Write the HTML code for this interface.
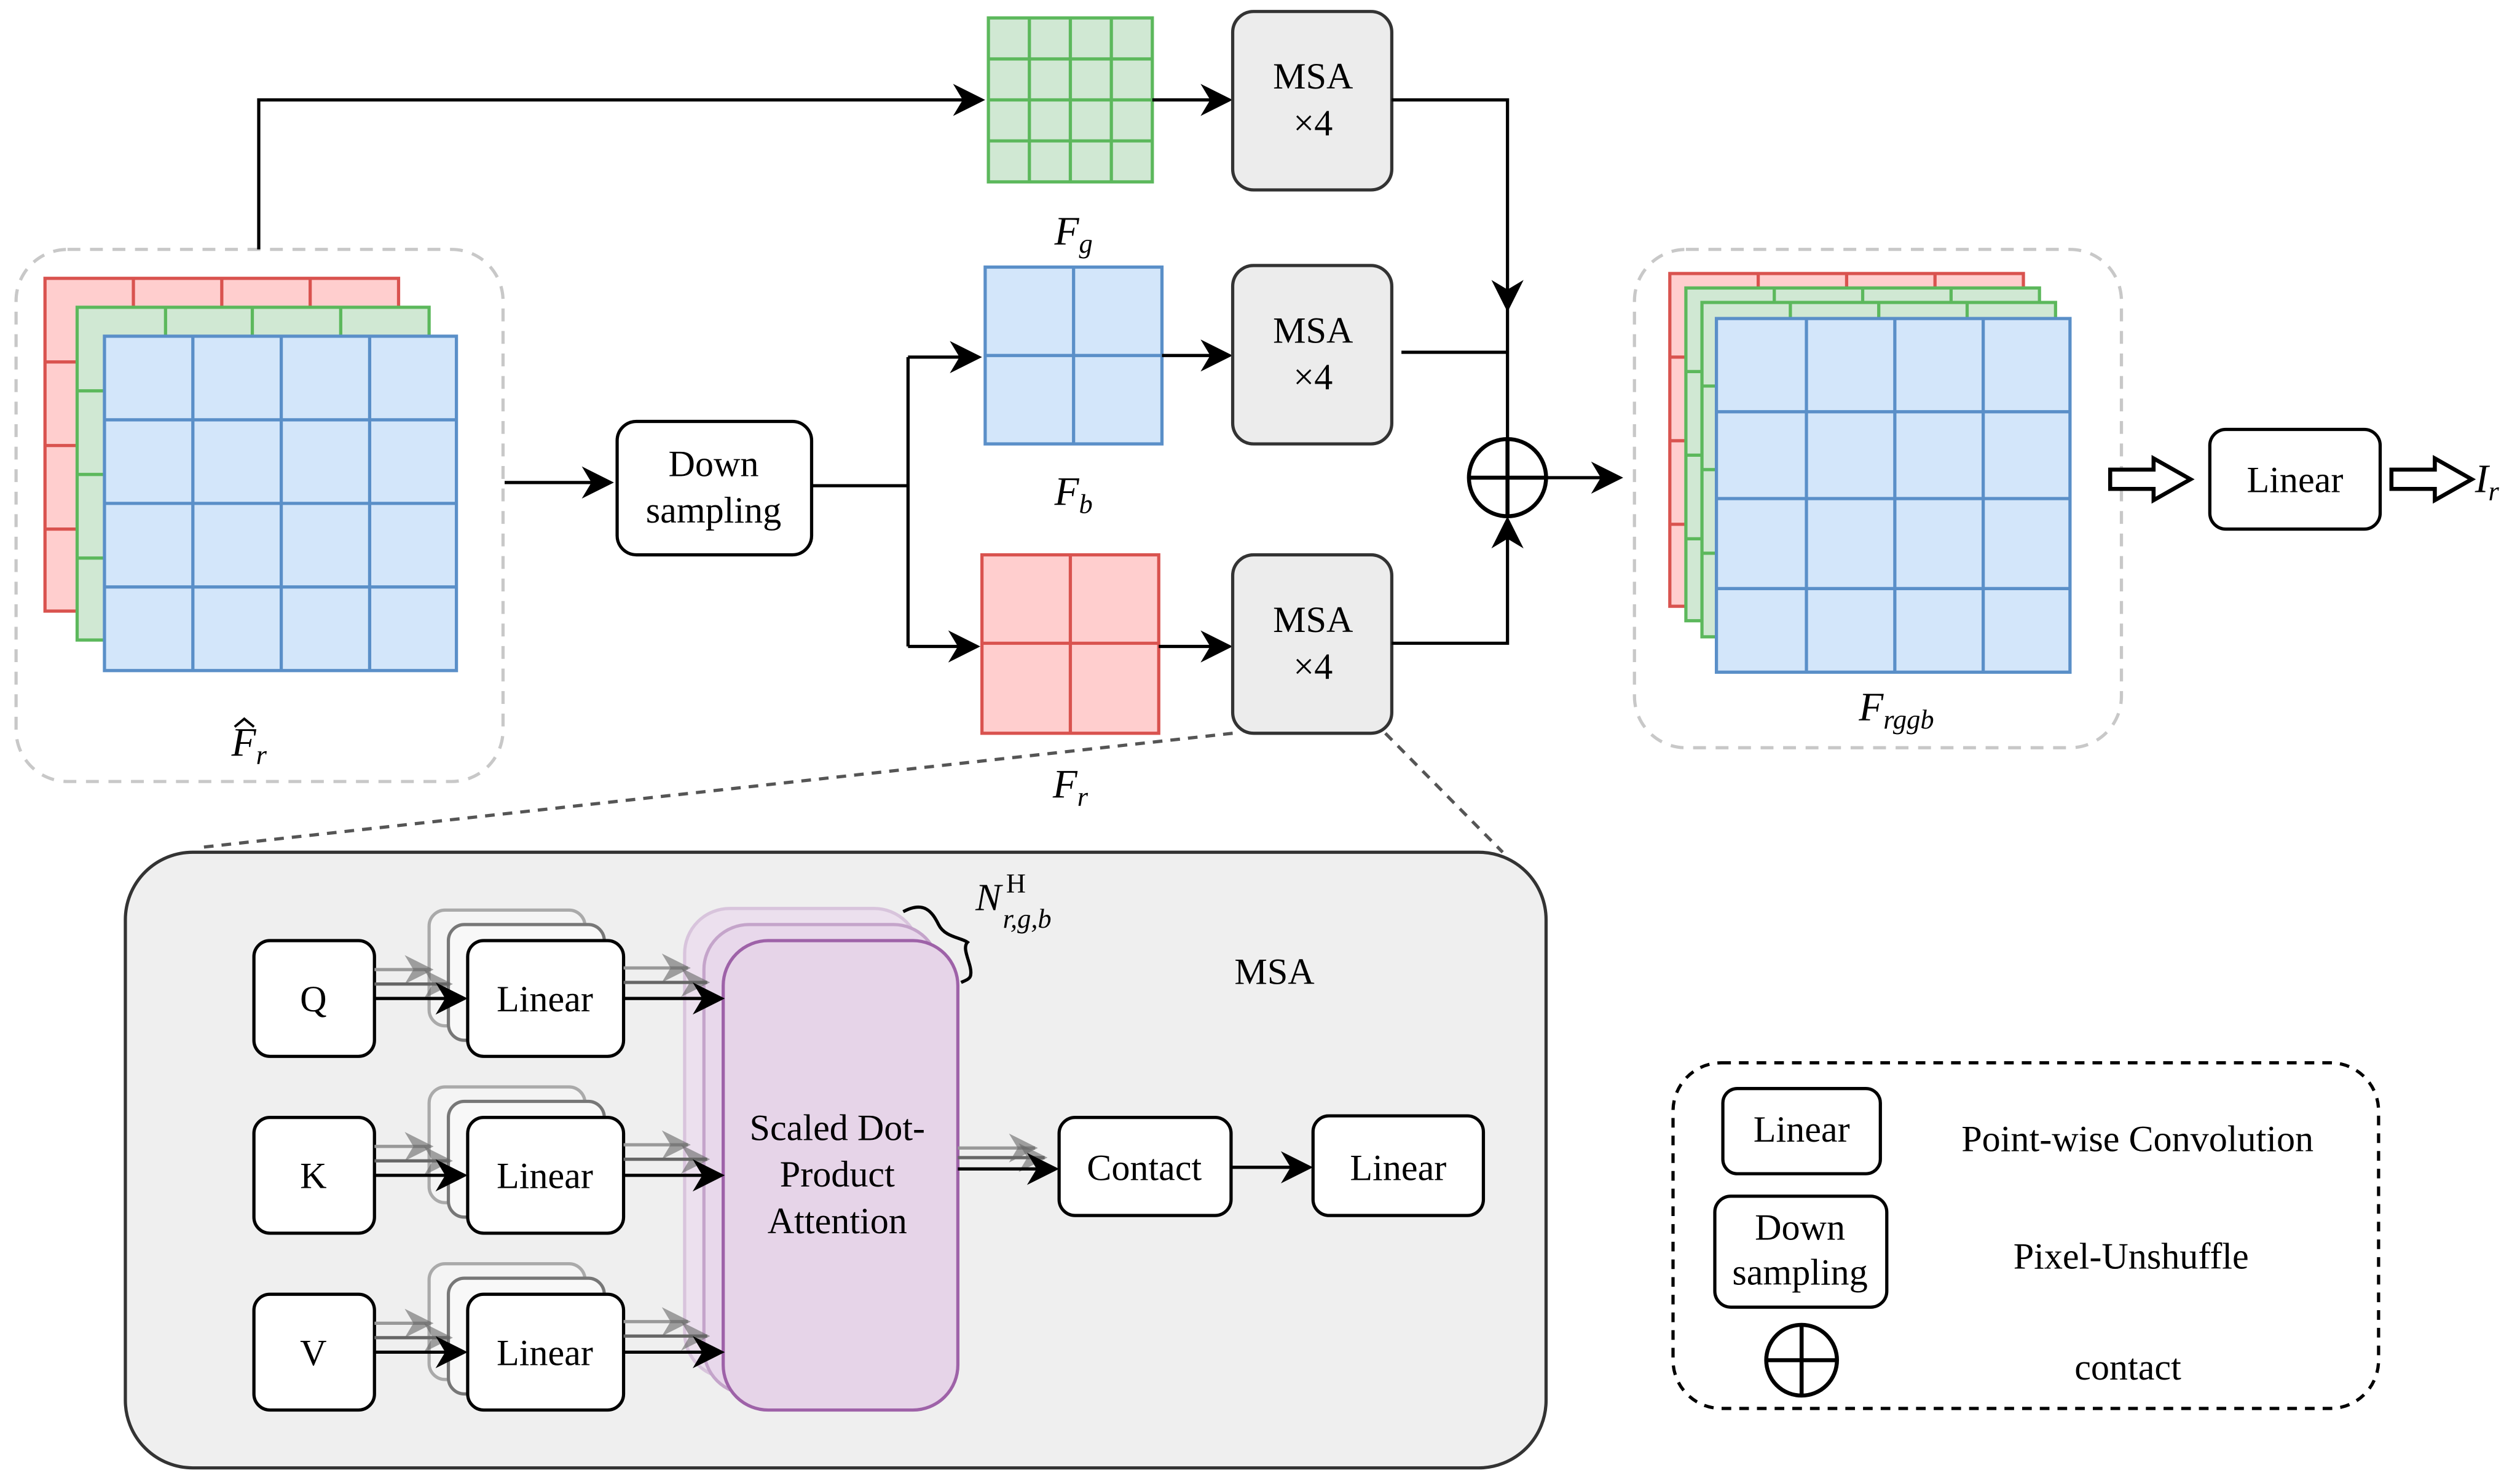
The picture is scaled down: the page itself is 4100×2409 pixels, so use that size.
<!DOCTYPE html>
<html><head><meta charset="utf-8"><style>html,body{margin:0;padding:0;background:#fff}svg{display:block}</style></head>
<body>
<svg width="4100" height="2409" viewBox="0 0 1568 921" xmlns="http://www.w3.org/2000/svg" font-family="Liberation Serif, serif">
<defs>
<marker id="ab" viewBox="0 0 10 10" refX="9" refY="5" markerWidth="20" markerHeight="20" markerUnits="userSpaceOnUse" orient="auto"><path d="M0,0 L10,5 L0,10 L3,5 Z" fill="#000"/></marker>
<marker id="ag" viewBox="0 0 10 10" refX="9" refY="5" markerWidth="18" markerHeight="18" markerUnits="userSpaceOnUse" orient="auto"><path d="M0,0 L10,5 L0,10 L3,5 Z" fill="#666" fill-opacity="0.6"/></marker>
</defs>
<g stroke-width="2">
<rect x="10" y="155" width="303" height="331" rx="32" fill="none" stroke="#c8c8c8" stroke-dasharray="8,6"/>
<g>
<rect x="28" y="173" width="220" height="207" fill="#ffcece" stroke="#d9534f"/>
<path d="M83,173V380M138,173V380M193,173V380M28,225H248M28,277H248M28,329H248" stroke="#d9534f"/>
<rect x="48" y="191" width="219" height="207" fill="#d0e8d3" stroke="#5cb85c"/>
<path d="M103,191V398M157,191V398M212,191V398M48,243H267M48,295H267M48,347H267" stroke="#5cb85c"/>
<rect x="65" y="209" width="219" height="208" fill="#d3e6fa" stroke="#5a8fc8"/>
<path d="M120,209V417M175,209V417M230,209V417M65,261H284M65,313H284M65,365H284" stroke="#5a8fc8"/>
</g>
<text x="155" y="470" font-size="25" font-style="italic" text-anchor="middle" stroke="none">F<tspan font-size="17" dy="5">r</tspan></text>
<path d="M146,452L152,447L158,452" fill="none" stroke="#000" stroke-width="1.5"/>

<path d="M161,155V62H611" fill="none" stroke="#000" marker-end="url(#ab)"/>
<path d="M314,300H380" stroke="#000" marker-end="url(#ab)"/>
<rect x="384" y="262" width="121" height="83" rx="12" fill="#fff" stroke="#000"/>
<text x="444" y="296" font-size="23" text-anchor="middle" stroke="none">Down</text>
<text x="444" y="325" font-size="23" text-anchor="middle" stroke="none">sampling</text>
<path d="M505,302H565V222M565,302V402" fill="none" stroke="#000"/>
<path d="M565,222H609" stroke="#000" marker-end="url(#ab)"/>
<path d="M565,402H608" stroke="#000" marker-end="url(#ab)"/>

<rect x="615" y="11" width="102" height="102" fill="#d0e8d3" stroke="#5cb85c"/>
<path d="M640.5,11V113M666,11V113M691.5,11V113M615,36.5H717M615,62H717M615,87.5H717" stroke="#5cb85c"/>
<text x="668" y="152" font-size="25" font-style="italic" text-anchor="middle" stroke="none">F<tspan font-size="17" dy="5">g</tspan></text>
<rect x="613" y="166" width="110" height="110" fill="#d3e6fa" stroke="#5a8fc8"/>
<path d="M668,166V276M613,221H723" stroke="#5a8fc8"/>
<text x="668" y="314" font-size="25" font-style="italic" text-anchor="middle" stroke="none">F<tspan font-size="17" dy="5">b</tspan></text>
<rect x="611" y="345" width="110" height="111" fill="#ffcece" stroke="#d9534f"/>
<path d="M666,345V456M611,400H721" stroke="#d9534f"/>
<text x="666" y="496" font-size="25" font-style="italic" text-anchor="middle" stroke="none">F<tspan font-size="17" dy="5">r</tspan></text>

<path d="M717,62H765" stroke="#000" marker-end="url(#ab)"/>
<path d="M723,221H765" stroke="#000" marker-end="url(#ab)"/>
<path d="M721,402H765" stroke="#000" marker-end="url(#ab)"/>
<g fill="#ececec" stroke="#333">
<rect x="767" y="7" width="99" height="111" rx="13"/>
<rect x="767" y="165" width="99" height="111" rx="13"/>
<rect x="767" y="345" width="99" height="111" rx="13"/>
</g>
<g font-size="23" text-anchor="middle" stroke="none">
<text x="817" y="55">MSA</text><text x="817" y="84">×4</text>
<text x="817" y="213">MSA</text><text x="817" y="242">×4</text>
<text x="817" y="393">MSA</text><text x="817" y="422">×4</text>
</g>
<path d="M866,62H938V192" fill="none" stroke="#000" marker-end="url(#ab)"/>
<path d="M938,185V273M872,219H938" fill="none" stroke="#000"/>
<path d="M866,400H938V323" fill="none" stroke="#000" marker-end="url(#ab)"/>
<circle cx="938" cy="297" r="24" fill="#fff" stroke="#000" stroke-width="2.5"/>
<path d="M914,297H962M938,273V321" stroke="#000" stroke-width="2.5"/>
<path d="M962,297H1008" stroke="#000" marker-end="url(#ab)"/>

<rect x="1017" y="155" width="303" height="310" rx="32" fill="none" stroke="#c8c8c8" stroke-dasharray="8,6"/>
<rect x="1039" y="170" width="220" height="207" fill="#ffcece" stroke="#d9534f"/>
<path d="M1094,170V377M1149,170V377M1204,170V377M1039,222H1259M1039,274H1259M1039,326H1259" stroke="#d9534f"/>
<rect x="1049" y="179" width="220" height="207" fill="#d0e8d3" stroke="#5cb85c"/>
<path d="M1104,179V386M1159,179V386M1214,179V386M1049,231H1269M1049,283H1269M1049,335H1269" stroke="#5cb85c"/>
<rect x="1059" y="188" width="220" height="208" fill="#d0e8d3" stroke="#5cb85c"/>
<path d="M1114,188V396M1169,188V396M1224,188V396M1059,240H1279M1059,292H1279M1059,344H1279" stroke="#5cb85c"/>
<rect x="1068" y="198" width="220" height="220" fill="#d3e6fa" stroke="#5a8fc8"/>
<path d="M1124,198V418M1179,198V418M1234,198V418M1068,256H1288M1068,310H1288M1068,366H1288" stroke="#5a8fc8"/>
<text x="1180" y="448" font-size="25" font-style="italic" text-anchor="middle" stroke="none">F<tspan font-size="17" dy="5">rggb</tspan></text>

<path d="M1313,292H1340V285L1363,298L1340,311V304H1313Z" fill="#fff" stroke="#000" stroke-width="2.5"/>
<rect x="1375" y="267" width="106" height="62" rx="10" fill="#fff" stroke="#000"/>
<text x="1428" y="306" font-size="23" text-anchor="middle" stroke="none">Linear</text>
<path d="M1488,292H1515V285L1538,298L1515,311V304H1488Z" fill="#fff" stroke="#000" stroke-width="2.5"/>
<text x="1540" y="306" font-size="25" font-style="italic" stroke="none">I<tspan font-size="17" dy="5">r</tspan></text>

<path d="M767,456L125,527M862,456L935,530" stroke="#555" stroke-dasharray="6,5" fill="none"/>
<rect x="78" y="530" width="884" height="383" rx="42" fill="#efefef" stroke="#333"/>

<g fill="#fff" stroke="#000">
<rect x="158" y="585" width="75" height="72" rx="10"/>
<rect x="158" y="695" width="75" height="72" rx="10"/>
<rect x="158" y="805" width="75" height="72" rx="10"/>
</g>
<g font-size="23" text-anchor="middle" stroke="none">
<text x="195" y="629">Q</text><text x="195" y="739">K</text><text x="195" y="849">V</text>
</g>

<rect x="426" y="565" width="146" height="292" rx="28" fill="#ece0ee" stroke="#d8c4dc"/>
<rect x="438" y="575" width="146" height="292" rx="28" fill="#e8d8eb" stroke="#c4a4ca"/>
<rect x="450" y="585" width="146" height="292" rx="28" fill="#e6d4e8" stroke="#9e62a8"/>
<g font-size="23" text-anchor="middle" stroke="none">
<text x="521" y="709">Scaled Dot-</text><text x="521" y="738">Product</text><text x="521" y="767">Attention</text>
</g>

<g id="ls">
<rect x="267" y="566" width="97" height="72" rx="10" fill="#f4f4f4" stroke="#aaa"/>
<rect x="279" y="575" width="97" height="72" rx="10" fill="#f8f8f8" stroke="#777"/>
<path d="M233,603H268" stroke="#999" marker-end="url(#ag)"/>
<path d="M233,612H280" stroke="#666" marker-end="url(#ag)"/>
<path d="M233,621H289" stroke="#000" marker-end="url(#ab)"/>
<rect x="291" y="585" width="97" height="72" rx="10" fill="#fff" stroke="#000"/>
<text x="339" y="629" font-size="23" text-anchor="middle" stroke="none">Linear</text>
<path d="M388,602H428" stroke="#999" marker-end="url(#ag)"/>
<path d="M388,611H440" stroke="#666" marker-end="url(#ag)"/>
<path d="M388,621H449" stroke="#000" marker-end="url(#ab)"/>
</g>
<use href="#ls" y="110"/>
<use href="#ls" y="220"/>

<path d="M562,567C575,560 580,567 584,575C588,583 598,583 602,586C598,590 605,600 604,606C604,609 600,610 598,611" fill="none" stroke="#000"/>
<text x="607" y="566" font-size="24" font-style="italic" stroke="none">N</text>
<text x="626" y="555" font-size="17" stroke="none">H</text>
<text x="624" y="577" font-size="17" font-style="italic" stroke="none">r,g,b</text>
<text x="793" y="612" font-size="23" text-anchor="middle" stroke="none">MSA</text>

<path d="M596,714H644" stroke="#999" marker-end="url(#ag)"/>
<path d="M596,720H650" stroke="#666" marker-end="url(#ag)"/>
<path d="M596,727H657" stroke="#000" marker-end="url(#ab)"/>
<rect x="659" y="695" width="107" height="61" rx="10" fill="#fff" stroke="#000"/>
<text x="712" y="734" font-size="23" text-anchor="middle" stroke="none">Contact</text>
<path d="M766,726H815" stroke="#000" marker-end="url(#ab)"/>
<rect x="817" y="694" width="106" height="62" rx="10" fill="#fff" stroke="#000"/>
<text x="870" y="734" font-size="23" text-anchor="middle" stroke="none">Linear</text>

<rect x="1041" y="661" width="439" height="215" rx="30" fill="none" stroke="#000" stroke-dasharray="6,5"/>
<rect x="1072" y="677" width="98" height="53" rx="9" fill="#fff" stroke="#000"/>
<text x="1121" y="710" font-size="23" text-anchor="middle" stroke="none">Linear</text>
<rect x="1067" y="744" width="107" height="69" rx="10" fill="#fff" stroke="#000"/>
<text x="1120" y="771" font-size="23" text-anchor="middle" stroke="none">Down</text>
<text x="1120" y="799" font-size="23" text-anchor="middle" stroke="none">sampling</text>
<circle cx="1121" cy="846" r="22" fill="#fff" stroke="#000" stroke-width="2.5"/>
<path d="M1099,846H1143M1121,824V868" stroke="#000" stroke-width="2.5"/>
<g font-size="23" text-anchor="middle" stroke="none">
<text x="1330" y="716">Point-wise Convolution</text>
<text x="1326" y="789">Pixel-Unshuffle</text>
<text x="1324" y="858">contact</text>
</g>
</g>
</svg>
</body></html>
